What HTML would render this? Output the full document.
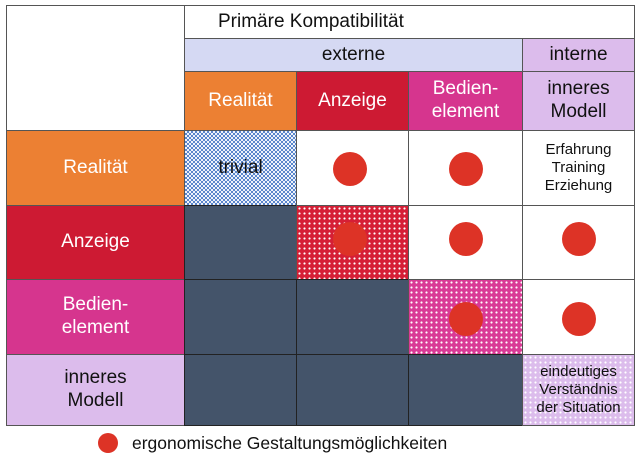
<!DOCTYPE html>
<html><head><meta charset="utf-8"><style>
body{margin:0;width:640px;height:467px;background:#fff;position:relative;font-family:"Liberation Sans",sans-serif;overflow:hidden}
.c{position:absolute;box-sizing:border-box;border:1px solid #555;display:flex;align-items:center;justify-content:center;text-align:center;line-height:1.2}
.w{color:#fff;font-size:19px}
.k{color:#111;font-size:19px}
.s{color:#111;font-size:15px}
.dot{position:absolute;width:34px;height:34px;border-radius:50%;background:#dd3326}
.dark{background:#44546a;border-color:#222}
</style></head><body>
<div class="c" style="left:6px;top:5px;width:179px;height:126px"></div>
<div class="c k" style="left:184px;top:5px;width:451px;height:34px;justify-content:flex-start;padding-left:33px">Primäre Kompatibilität</div>
<div class="c k" style="left:184px;top:38px;width:339px;height:34px;background:#d5d9f3">externe</div>
<div class="c k" style="left:522px;top:38px;width:113px;height:34px;background:#dcbcec">interne</div>
<div class="c w" style="left:184px;top:71px;width:113px;height:60px;background:#ec8033">Realität</div>
<div class="c w" style="left:296px;top:71px;width:113px;height:60px;background:#cd1a33">Anzeige</div>
<div class="c w" style="left:408px;top:71px;width:115px;height:60px;background:#d6358e">Bedien-<br>element</div>
<div class="c k" style="left:522px;top:71px;width:113px;height:60px;background:#dcbcec">inneres<br>Modell</div>

<div class="c w" style="left:6px;top:130px;width:179px;height:76px;background:#ec8033">Realität</div>
<div class="c w" style="left:6px;top:205px;width:179px;height:75px;background:#cd1a33">Anzeige</div>
<div class="c w" style="left:6px;top:279px;width:179px;height:76px;background:#d6358e">Bedien-<br>element</div>
<div class="c k" style="left:6px;top:354px;width:179px;height:72px;background:#dcbcec">inneres<br>Modell</div>

<div class="c k" style="left:184px;top:130px;width:113px;height:76px;background:repeating-conic-gradient(#5a86cc 0 25%,#eef2fb 0 50%) 0 0/4px 4px">trivial</div>
<div class="c" style="left:296px;top:130px;width:113px;height:76px"></div>
<div class="c" style="left:408px;top:130px;width:115px;height:76px"></div>
<div class="c s" style="left:522px;top:130px;width:113px;height:76px">Erfahrung<br>Training<br>Erziehung</div>

<div class="c dark" style="left:184px;top:205px;width:113px;height:75px"></div>
<div class="c" style="left:296px;top:205px;width:113px;height:75px;background:radial-gradient(circle,#fff 0.8px,transparent 1.3px) 0 0/5px 5px,#d51f36"></div>
<div class="c" style="left:408px;top:205px;width:115px;height:75px"></div>
<div class="c" style="left:522px;top:205px;width:113px;height:75px"></div>

<div class="c dark" style="left:184px;top:279px;width:113px;height:76px"></div>
<div class="c dark" style="left:296px;top:279px;width:113px;height:76px"></div>
<div class="c" style="left:408px;top:279px;width:115px;height:76px;background:radial-gradient(circle,#fff 0.8px,transparent 1.3px) 0 0/5px 5px,#d93a96"></div>
<div class="c" style="left:522px;top:279px;width:113px;height:76px"></div>

<div class="c dark" style="left:184px;top:354px;width:113px;height:72px"></div>
<div class="c dark" style="left:296px;top:354px;width:113px;height:72px"></div>
<div class="c dark" style="left:408px;top:354px;width:115px;height:72px"></div>
<div class="c s" style="left:522px;top:354px;width:113px;height:72px;background:radial-gradient(circle,#fff 0.8px,transparent 1.3px) 0 0/5px 5px,#dcbcec">eindeutiges<br>Verständnis<br>der Situation</div>

<div class="dot" style="left:333px;top:152px"></div>
<div class="dot" style="left:449px;top:152px"></div>
<div class="dot" style="left:333px;top:222px"></div>
<div class="dot" style="left:449px;top:222px"></div>
<div class="dot" style="left:562px;top:222px"></div>
<div class="dot" style="left:449px;top:302px"></div>
<div class="dot" style="left:562px;top:302px"></div>

<div class="dot" style="left:98px;top:433px;width:20px;height:20px"></div>
<div style="position:absolute;left:132px;top:433px;font-size:17.5px;color:#111">ergonomische Gestaltungsmöglichkeiten</div>
</body></html>
